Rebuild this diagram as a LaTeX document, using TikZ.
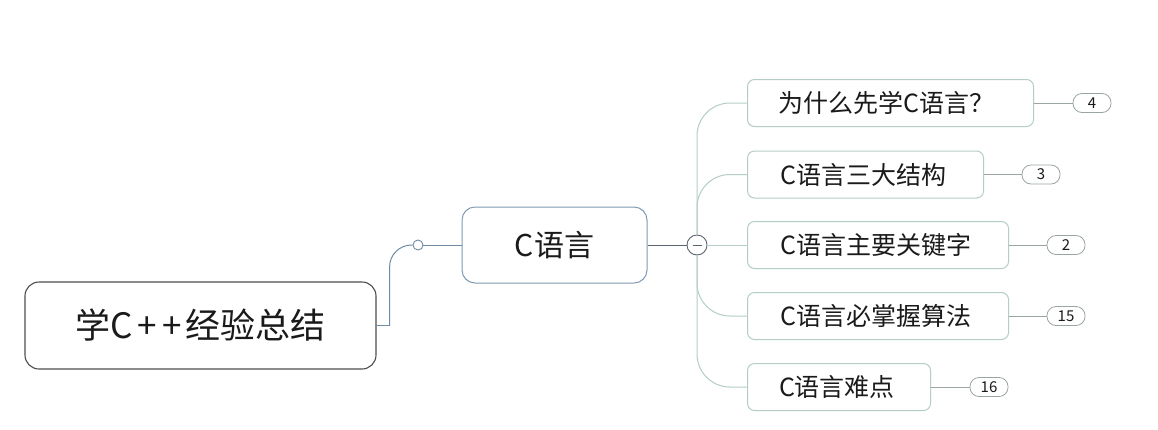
\documentclass[tikz,border=0pt]{standalone}
\usepackage{fontspec}
\usetikzlibrary{calc}
\newfontfamily\cjk{Noto Sans CJK SC}
\definecolor{rootline}{HTML}{4D4D4D}
\definecolor{cline}{HTML}{7F9AB3}
\definecolor{linkblue}{HTML}{6E8CA6}
\definecolor{darklink}{HTML}{5A6570}
\definecolor{branch}{HTML}{B4CEC7}
\definecolor{badgeline}{HTML}{9AA4A4}
\definecolor{ink}{HTML}{1A1A1A}
\tikzset{
  rootbox/.style={draw=rootline, line width=1.1pt, rounded corners=14pt, minimum width=351pt, minimum height=87pt, inner sep=0pt, font=\cjk\fontsize{35}{35}\selectfont, text=ink},
  cbox/.style={draw=cline, line width=1pt, rounded corners=13pt, minimum width=185pt, minimum height=76pt, inner sep=0pt, font=\cjk\fontsize{30}{30}\selectfont, text=ink},
  childbox/.style={draw=branch, line width=1pt, rounded corners=7pt, minimum height=47pt, inner sep=0pt, anchor=west, font=\cjk\fontsize{25}{25}\selectfont, text=ink},
  badge/.style={draw=badgeline, line width=0.8pt, rounded corners=9pt, minimum width=38pt, minimum height=19pt, inner sep=0pt, font=\cjk\fontsize{15}{15}\selectfont, text=ink},
  branchline/.style={draw=branch, line width=1pt},
  badgelink/.style={draw=badgeline, line width=0.8pt},
}
\begin{document}
\begin{tikzpicture}[x=1pt,y=-1pt]
\useasboundingbox (0,0) rectangle (1158,429);
\fill[white] (0,0) rectangle (1158,429);
% main nodes
\node[rootbox] (root) at (200.5,325.5) {学C\kern5pt+\kern5pt+\kern4pt经验总结};
\node[cbox] (c) at (554.5,245) {C语言};
\node[draw=linkblue, line width=0.9pt, fill=white, circle, minimum size=10pt, inner sep=0pt] (dot) at (418,245) {};
\node[draw=darklink, line width=0.9pt, fill=white, circle, minimum size=20pt, inner sep=0pt] (col) at (697,245) {};
% children
\node[childbox, minimum width=286pt] (n1) at (747,103) {为什么先学C语言？\kern8pt};
\node[childbox, minimum width=236pt] (n2) at (747,174.5) {C语言三大结构\kern4pt};
\node[childbox, minimum width=261pt] (n3) at (747,245) {C语言主要关键字\kern4pt};
\node[childbox, minimum width=261pt] (n4) at (747,316) {C语言必掌握算法\kern4pt};
\node[childbox, minimum width=183pt] (n5) at (747,387) {C语言难点\kern4pt};
% badges
\node[badge] (b1) at (1092,103) {4};
\node[badge] (b2) at (1041,174.5) {3};
\node[badge] (b3) at (1066,245) {2};
\node[badge] (b4) at (1066,316) {15};
\node[badge] (b5) at (989,387) {16};
% root to C
\coordinate (k) at ($(root.east)+(13,0)$);
\draw[linkblue, line width=1pt] (root.east) -- (k);
\draw[linkblue, line width=1pt, rounded corners=22pt] (k) |- (dot.west);
\draw[linkblue, line width=1pt] (dot.east) -- (c.west);
% C to collapse circle
\draw[darklink, line width=1pt] (c.east) -- (col.west);
\draw[darklink, line width=1pt] ($(col.center)+(-4.5,0)$) -- ($(col.center)+(4.5,0)$);
% branches
\draw[branchline, rounded corners=33pt] (col.north) |- (n1.west);
\draw[branchline, rounded corners=33pt] (col.north) |- (n2.west);
\draw[branchline] (col.east) -- (n3.west);
\draw[branchline, rounded corners=33pt] (col.south) |- (n4.west);
\draw[branchline, rounded corners=33pt] (col.south) |- (n5.west);
% badge links
\draw[badgelink] (n1.east) -- (b1.west);
\draw[badgelink] (n2.east) -- (b2.west);
\draw[badgelink] (n3.east) -- (b3.west);
\draw[badgelink] (n4.east) -- (b4.west);
\draw[badgelink] (n5.east) -- (b5.west);
\end{tikzpicture}
\end{document}
